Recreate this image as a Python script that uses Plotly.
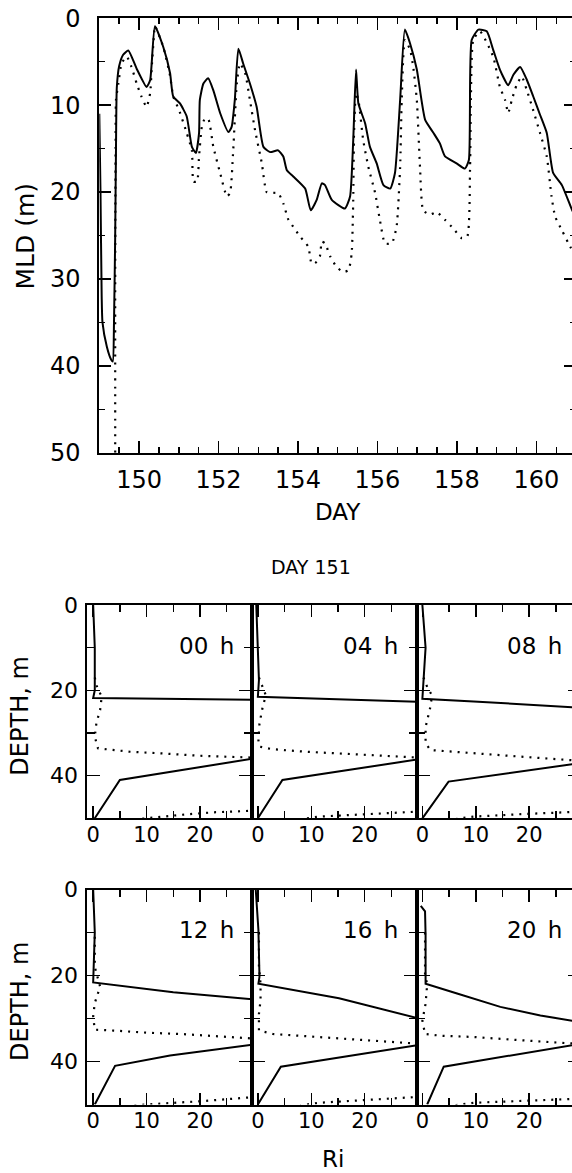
import plotly.graph_objects as go

W, H = 582, 1173  # figure is slightly wider than the 572px window so the right frame falls just outside
FONT = "DejaVu Sans"

# ---------------- top panel: mixed-layer depth vs day ----------------
day_solid = [149.00, 149.03, 149.06, 149.08, 149.19, 149.30, 149.34, 149.37, 149.40, 149.42,
             149.44, 149.50, 149.60, 149.73, 149.94, 150.19, 150.28, 150.40, 150.61, 150.78,
             150.86, 151.03, 151.20, 151.33, 151.43, 151.51, 151.53, 151.62, 151.74, 151.87,
             152.04, 152.25, 152.33, 152.41, 152.50, 152.62, 152.79, 152.96, 153.13, 153.30,
             153.50, 153.63, 153.72, 153.88, 154.18, 154.32, 154.47, 154.60, 154.68, 154.85,
             155.18, 155.31, 155.39, 155.46, 155.52, 155.69, 155.81, 155.98, 156.15, 156.32,
             156.44, 156.57, 156.69, 156.82, 156.99, 157.20, 157.41, 157.57, 157.70, 157.99,
             158.20, 158.30, 158.37, 158.54, 158.75, 158.91, 159.08, 159.29, 159.42, 159.59,
             159.76, 159.92, 160.09, 160.26, 160.42, 160.64, 160.90, 161.00]
mld_solid = [11.0, 20.0, 32.0, 35.0, 37.8, 39.3, 39.5, 35.0, 25.0, 15.0,
             8.0, 5.5, 4.2, 3.7, 5.8, 7.9, 7.1, 0.9, 3.3, 6.3,
             9.0, 9.8, 11.3, 14.8, 15.5, 13.2, 9.4, 7.5, 6.9, 8.3,
             10.9, 13.1, 12.5, 9.4, 3.5, 5.2, 7.5, 10.2, 14.8, 15.4,
             15.2, 15.9, 17.5, 18.2, 19.6, 22.1, 20.9, 19.0, 19.2, 20.9,
             21.9, 20.5, 14.0, 5.9, 9.8, 12.1, 14.8, 16.7, 19.2, 19.6,
             17.8, 9.4, 1.3, 2.9, 5.9, 11.7, 13.2, 14.4, 15.9, 16.7,
             17.3, 16.3, 2.5, 1.3, 1.5, 3.6, 5.9, 7.7, 6.5, 5.6,
             7.1, 9.0, 11.1, 13.2, 17.8, 19.2, 22.1, 23.0]

day_dot = [149.40, 149.40, 149.41, 149.42, 149.48, 149.56, 149.69, 149.81, 149.94, 150.06,
           150.19, 150.28, 150.32, 150.38, 150.40, 150.61, 150.78, 150.86, 151.01, 151.20,
           151.33, 151.37, 151.46, 151.51, 151.58, 151.66, 151.75, 151.87, 152.04, 152.21,
           152.29, 152.37, 152.46, 152.54, 152.67, 152.79, 152.92, 153.09, 153.21, 153.34,
           153.50, 153.63, 153.76, 153.88, 154.05, 154.26, 154.34, 154.43, 154.55, 154.60,
           154.68, 154.81, 154.97, 155.14, 155.27, 155.35, 155.39, 155.41, 155.46, 155.52,
           155.64, 155.77, 155.94, 156.06, 156.19, 156.36, 156.48, 156.57, 156.61, 156.69,
           156.82, 156.90, 156.99, 157.07, 157.15, 157.32, 157.49, 157.70, 157.91, 158.12,
           158.26, 158.33, 158.35, 158.41, 158.58, 158.91, 159.08, 159.21, 159.29, 159.38,
           159.50, 159.63, 159.76, 159.92, 160.09, 160.26, 160.38, 160.47, 160.64, 160.85,
           161.00]
mld_dot = [50.0, 30.0, 15.0, 9.4, 7.5, 5.2, 4.4, 5.6, 7.5, 9.0,
           10.2, 8.6, 5.6, 1.7, 0.9, 3.3, 6.6, 9.0, 10.6, 13.2,
           15.2, 18.8, 18.8, 15.9, 12.5, 11.5, 11.7, 14.8, 17.8, 20.5,
           20.1, 15.2, 7.5, 5.2, 6.3, 9.4, 12.9, 16.7, 20.0, 20.1,
           20.1, 21.3, 23.2, 24.0, 25.1, 26.3, 28.2, 28.2, 27.4, 25.7,
           25.9, 27.4, 28.6, 29.2, 29.0, 27.1, 20.9, 13.2, 8.6, 9.4,
           14.0, 17.1, 20.1, 23.2, 25.9, 25.9, 24.0, 17.1, 9.4, 2.5,
           3.6, 5.6, 9.4, 17.1, 22.1, 22.6, 22.3, 23.2, 24.2, 25.3,
           25.1, 17.1, 9.4, 2.5, 1.5, 4.4, 7.9, 9.4, 10.9, 9.4,
           7.7, 6.7, 8.3, 10.6, 13.2, 15.9, 20.5, 22.8, 24.4, 26.3,
           27.5]

day_ticks = [150, 152, 154, 156, 158, 160]
mld_ticks = [0, 10, 20, 30, 40, 50]

# ---------------- Ri profiles, day 151 ----------------
hour_labels = ["00\u2002h", "04\u2002h", "08\u2002h", "12\u2002h", "16\u2002h", "20\u2002h"]

ri_sol_00 = [0.0, 0.3, 0.3, 0.0, 30.5, None, 30.5, 16.3, 5.0, 0.3]
z_sol_00 = [0.0, 10.0, 20.0, 21.8, 22.2, None, 35.9, 38.7, 41.0, 50.0]
ri_dot_00 = [0.3, 0.6, 1.6, 1.3, 0.6, 0.3, 0.9, 2.8, 6.9, 13.1, 19.4, 25.6, 30.5, None,
             30.5, 28.8, 22.5, 16.3, 10.0, 6.0]
z_dot_00 = [17.0, 18.8, 21.5, 24.6, 27.7, 30.9, 33.6, 33.8, 34.4, 34.8, 35.3, 35.6, 35.8, None,
            48.2, 48.3, 48.6, 49.2, 50.0, 50.5]

ri_sol_04 = [-0.3, 0.0, 0.2, 0.0, 30.5, None, 30.5, 4.6, 0.0]
z_sol_04 = [0.0, 10.0, 17.6, 21.5, 22.7, None, 36.1, 41.0, 50.0]
ri_dot_04 = [0.2, 0.9, 1.5, 0.9, 0.3, 0.1, 0.3, 2.7, 9.0, 15.2, 21.5, 29.0, 30.5, None,
             30.5, 24.6, 18.4, 11.5, 8.0]
z_dot_04 = [17.0, 19.2, 21.2, 23.9, 27.8, 31.7, 33.2, 33.8, 34.4, 34.8, 35.2, 35.7, 35.8, None,
            48.4, 48.8, 49.2, 49.6, 50.2]

ri_sol_08 = [0.0, 0.6, 0.1, 0.0, 9.6, 19.0, 28.1, 30.5, None, 30.5, 4.9, 0.0]
z_sol_08 = [0.0, 10.0, 20.0, 22.0, 22.6, 23.4, 24.0, 24.2, None, 36.9, 41.4, 50.0]
ri_dot_08 = [0.2, 0.9, 1.8, 1.5, 0.6, 0.6, 1.5, 9.6, 19.0, 28.1, 30.5, None,
             30.5, 28.0, 19.0, 9.6, 6.0]
z_dot_08 = [17.0, 19.2, 21.2, 23.9, 28.6, 32.4, 34.0, 34.8, 35.6, 36.4, 36.6, None,
            48.4, 48.5, 49.0, 49.6, 50.2]

ri_sol_12 = [0.0, 0.3, 0.0, 15.0, 30.5, None, 30.5, 14.4, 4.1, 0.3]
z_sol_12 = [0.0, 10.0, 21.6, 23.9, 25.6, None, 36.0, 38.6, 41.0, 50.0]
ri_dot_12 = [0.3, 0.3, 1.3, 0.3, 0.0, 0.3, 3.8, 10.0, 16.3, 22.5, 29.1, 30.5, None,
             30.5, 28.8, 20.6, 14.4, 10.0, 7.0]
z_dot_12 = [11.0, 18.0, 22.6, 26.4, 29.5, 32.6, 32.8, 33.3, 33.6, 34.0, 34.6, 34.7, None,
            48.3, 48.4, 49.2, 49.6, 50.0, 50.3]

ri_sol_16 = [-0.4, 0.1, 0.3, 0.1, 15.2, 30.5, None, 30.5, 4.3, 0.0]
z_sol_16 = [0.0, 9.4, 20.3, 21.9, 25.3, 30.1, None, 36.1, 41.2, 50.0]
ri_dot_16 = [0.2, 0.2, 0.5, 0.5, 0.2, 0.2, 2.8, 9.0, 15.2, 21.4, 29.0, 30.5, None,
             30.5, 29.0, 24.6, 18.4, 11.5, 8.0]
z_dot_16 = [10.0, 18.0, 21.9, 25.8, 28.9, 32.8, 33.6, 34.1, 34.6, 35.1, 35.8, 35.9, None,
            48.2, 48.3, 48.6, 49.0, 49.6, 50.2]

ri_sol_20 = [-0.3, 0.5, 0.6, 0.6, 0.6, 6.5, 14.6, 22.1, 28.1, 30.5, None, 30.5, 4.0, 0.9]
z_sol_20 = [3.8, 5.1, 10.5, 20.3, 21.9, 24.2, 27.3, 29.3, 30.6, 31.0, None, 35.7, 41.2, 50.0]
ri_dot_20 = [0.5, 0.5, 0.9, 0.6, 0.0, 0.5, 3.4, 9.6, 19.0, 28.1, 30.5, None,
             30.5, 28.0, 19.0, 9.6, 6.0]
z_dot_20 = [10.0, 20.0, 22.0, 26.6, 30.5, 33.6, 34.0, 34.3, 35.1, 35.9, 36.0, None,
            48.6, 48.7, 49.1, 49.6, 50.2]

ri_ticks = [0, 10, 20]
depth_ticks = [0, 20, 40]

profiles = [
    (ri_sol_00, z_sol_00, ri_dot_00, z_dot_00),
    (ri_sol_04, z_sol_04, ri_dot_04, z_dot_04),
    (ri_sol_08, z_sol_08, ri_dot_08, z_dot_08),
    (ri_sol_12, z_sol_12, ri_dot_12, z_dot_12),
    (ri_sol_16, z_sol_16, ri_dot_16, z_dot_16),
    (ri_sol_20, z_sol_20, ri_dot_20, z_dot_20),
]

# ---------------- layout geometry (screen pixels; body margin removed) ----------------
def fx(p):
    return min(max(p / W, 0.0), 1.0)


def fy(p):
    return min(max(1 - p / H, 0.0), 1.0)


top_left, top_top, top_bot = 99.3, 18.3, 452.7
px_per_day = 39.74
top_right = top_left + 12 * px_per_day
col_edges = [(87.3, 252.0), (252.0, 416.5), (416.5, 581.0)]
row_edges = [(605.0, 818.3), (889.5, 1104.5)]
px_per_ri = 5.34
ri_min = -1.1

fig = go.Figure()

solid = dict(color="black", width=2)
dotted = dict(color="black", width=2.2, dash="2px,6px")

fig.add_trace(go.Scatter(x=day_solid, y=mld_solid, mode="lines",
                         line=dict(solid, shape="spline", smoothing=0.5),
                         xaxis="x", yaxis="y", showlegend=False, hoverinfo="skip"))
fig.add_trace(go.Scatter(x=day_dot, y=mld_dot, mode="lines",
                         line=dict(dotted, shape="spline", smoothing=0.5),
                         xaxis="x", yaxis="y", showlegend=False, hoverinfo="skip"))

axis_common = dict(showgrid=False, zeroline=False, showline=True, linecolor="black",
                   linewidth=2, ticks="inside", tickcolor="black", mirror="allticks",
                   automargin=False, ticklabeloverflow="allow")

layout = dict(
    template="none",
    width=W, height=H, margin=dict(l=0, r=0, t=0, b=0, pad=0, autoexpand=False),
    paper_bgcolor="white", plot_bgcolor="white",
    font=dict(family=FONT, color="black"),
    showlegend=False,
)

layout["xaxis"] = dict(axis_common, domain=[fx(top_left), fx(top_right)], anchor="y",
                       range=[149, 149 + (top_right - top_left) / px_per_day],
                       tickvals=day_ticks, ticklen=12, tickwidth=1.5,
                       minor=dict(dtick=0.5, tick0=150, ticklen=6, tickwidth=1.5,
                                  ticks="inside", tickcolor="black"),
                       tickfont=dict(size=24), ticklabelstandoff=4)
layout["yaxis"] = dict(axis_common, domain=[fy(top_bot), fy(top_top)], anchor="x",
                       range=[50, 0], tickvals=mld_ticks, ticklen=12, tickwidth=1.5,
                       minor=dict(dtick=5, tick0=0, ticklen=6, tickwidth=1.5,
                                  ticks="inside", tickcolor="black"),
                       tickfont=dict(size=24), ticklabelstandoff=12)

for i, (rs, zs, rd, zd) in enumerate(profiles):
    r, c = divmod(i, 3)
    xa = "x%d" % (i + 2)
    ya = "y%d" % (i + 2)
    x0, x1 = col_edges[c]
    y0, y1 = row_edges[r]
    fig.add_trace(go.Scatter(x=rs, y=zs, mode="lines", line=solid, connectgaps=False,
                             xaxis=xa, yaxis=ya, showlegend=False, hoverinfo="skip"))
    fig.add_trace(go.Scatter(x=rd, y=zd, mode="lines", line=dotted, connectgaps=False,
                             xaxis=xa, yaxis=ya, showlegend=False, hoverinfo="skip"))
    layout["xaxis%d" % (i + 2)] = dict(
        axis_common, domain=[fx(x0), fx(x1)], anchor=ya,
        range=[ri_min, ri_min + (x1 - x0) / px_per_ri],
        tickvals=ri_ticks, ticklen=12, tickwidth=1.5,
        minor=dict(dtick=5, tick0=0, ticklen=7, tickwidth=1.5, ticks="inside",
                   tickcolor="black"),
        tickfont=dict(size=21), ticklabelstandoff=-4)
    layout["yaxis%d" % (i + 2)] = dict(
        axis_common, domain=[fy(y1), fy(y0)], anchor=xa,
        range=[50, 0], tickvals=depth_ticks, ticklen=13, tickwidth=1.5,
        showticklabels=(c == 0),
        minor=dict(dtick=10, tick0=0, ticklen=8, tickwidth=1.5, ticks="inside",
                   tickcolor="black"),
        tickfont=dict(size=22), ticklabelstandoff=3)

ann = []
ann.append(dict(text="MLD (m)", x=fx(25), y=fy(236.5), xref="paper", yref="paper",
                showarrow=False, textangle=-90, font=dict(size=25), xanchor="center",
                yanchor="middle"))
ann.append(dict(text="DAY", x=fx(338), y=fy(512), xref="paper", yref="paper",
                showarrow=False, font=dict(size=23), xanchor="center", yanchor="middle"))
ann.append(dict(text="DAY 151", x=fx(311), y=fy(567), xref="paper", yref="paper",
                showarrow=False, font=dict(size=19), xanchor="center", yanchor="middle"))
ann.append(dict(text="Ri", x=fx(333), y=fy(1159), xref="paper", yref="paper",
                showarrow=False, font=dict(size=23), xanchor="center", yanchor="middle"))
for (y0, y1) in row_edges:
    ann.append(dict(text="DEPTH, m", x=fx(20), y=fy((y0 + y1) / 2 + 5), xref="paper",
                    yref="paper", showarrow=False, textangle=-90, font=dict(size=24),
                    xanchor="center", yanchor="middle"))
label_right = [236, 400, 564]
label_y = [646, 930]
for i, lab in enumerate(hour_labels):
    r, c = divmod(i, 3)
    ann.append(dict(text=lab, x=fx(label_right[c]), y=fy(label_y[r]), xref="paper",
                    yref="paper", showarrow=False, font=dict(size=23), xanchor="right",
                    yanchor="middle"))
layout["annotations"] = ann

fig.update_layout(**layout)
fig.write_html("out.html", config={"displayModeBar": False, "staticPlot": True},
               post_script="document.body.style.margin='0';document.body.style.overflow='hidden';")
